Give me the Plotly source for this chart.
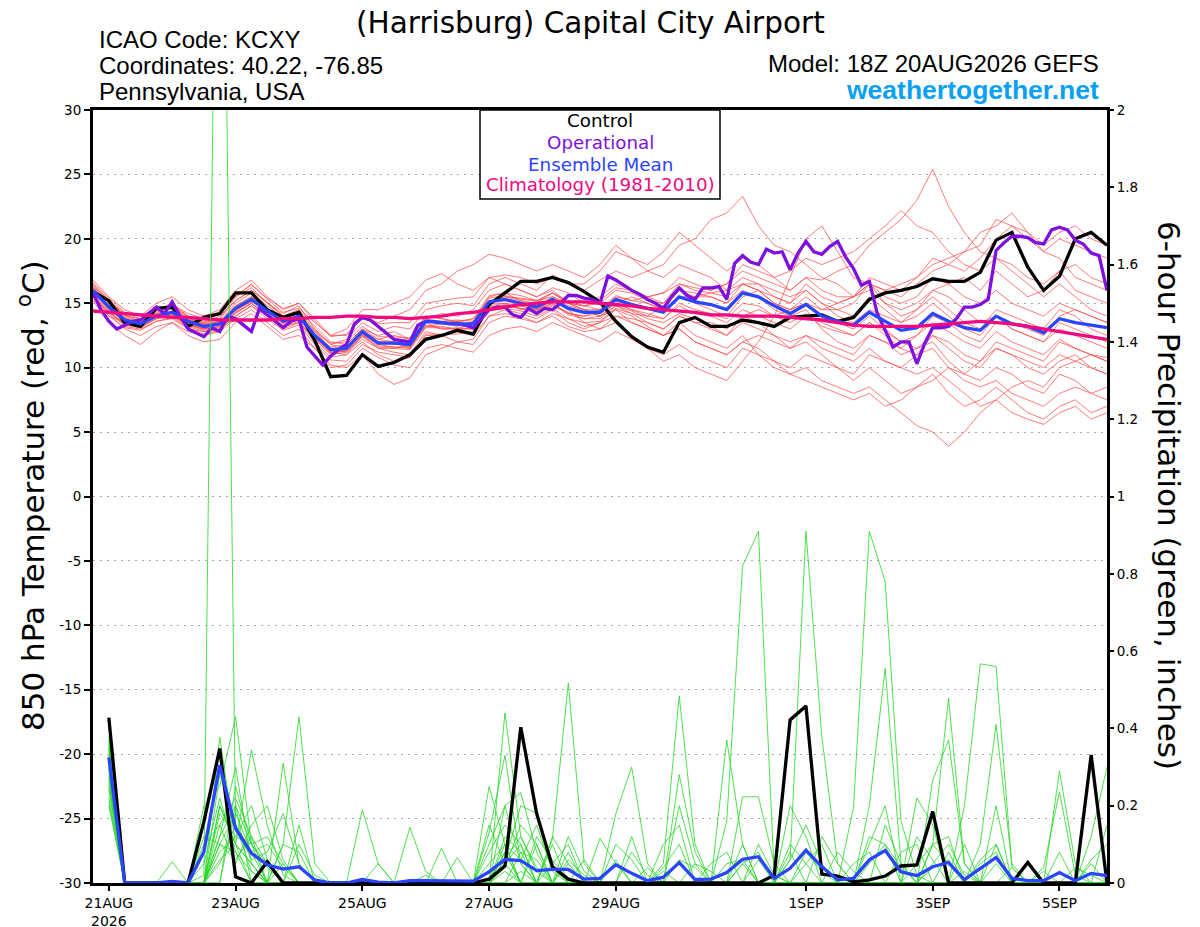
import pandas as pd
import plotly.graph_objects as go

# ---------------- data ----------------
START = "2026-08-20 18:00"

control_temp = [15.9, 15.2, 13.5, 13.2, 14.6, 14.7, 13.2, 13.9, 14.2, 15.8, 15.8, 14.5, 13.9,
                14.3, 12.1, 9.3, 9.4, 11.0, 10.1, 10.4, 11.0, 12.2, 12.5, 12.9, 12.6, 14.9,
                15.8, 16.7, 16.7, 17.0, 16.6, 15.9, 15.1, 13.6, 12.4, 11.6, 11.2, 13.5, 13.9,
                13.2, 13.2, 13.7, 13.5, 13.2, 13.9, 14.0, 14.1, 13.6, 13.9, 15.3, 15.8, 16.0,
                16.3, 16.9, 16.7, 16.7, 17.4, 19.9, 20.5, 17.8, 16.0, 17.1, 20.0, 20.5, 19.5]

oper_temp = [15.8, 14.5, 13.6, 13.0, 13.3, 13.6, 13.7, 14.2, 14.7, 14.2, 15.1, 14.0, 13.0, 12.7, 12.4, 13.1,
             12.8, 14.0, 13.8, 13.3, 12.8, 14.6, 14.1, 13.6, 13.1, 13.6, 13.8, 11.6, 10.9, 10.2, 10.9, 11.4,
             11.8, 13.4, 13.9, 13.7, 13.2, 12.7, 12.2, 12.1, 12.0, 13.3, 13.6, 13.6, 13.5, 13.4, 13.4, 13.3,
             13.1, 13.8, 14.5, 14.7, 14.7, 14.1, 13.9, 14.6, 14.2, 14.6, 14.5, 15.0, 15.6, 15.6, 15.4, 15.3,
             15.0, 17.1, 16.8, 16.4, 16.0, 15.7, 15.3, 15.0, 14.6, 15.5, 16.2, 15.6, 15.3, 16.2, 16.2, 16.3,
             15.3, 18.1, 18.7, 18.2, 18.0, 19.2, 18.9, 19.0, 17.6, 18.9, 19.8, 19.0, 18.8, 19.4, 19.8, 18.6,
             17.7, 16.4, 16.7, 14.2, 12.9, 11.6, 12.0, 12.0, 10.3, 11.9, 13.1, 13.1, 13.2, 13.8, 14.7, 14.7,
             14.9, 15.3, 19.1, 19.7, 20.2, 20.2, 20.1, 19.7, 19.6, 20.7, 20.9, 20.7, 19.9, 19.6, 18.9, 18.7,
             16.0]

mean_temp = [16.0, 14.7, 13.7, 13.4, 14.0, 14.3, 13.6, 13.2, 13.4, 14.6, 15.3, 14.4, 13.6,
             14.0, 12.5, 11.4, 11.5, 12.8, 11.9, 11.9, 11.8, 13.6, 13.5, 13.4, 13.4, 15.1,
             15.3, 15.0, 14.7, 15.3, 14.6, 14.3, 14.3, 15.3, 14.9, 14.6, 14.3, 15.5, 15.1,
             14.9, 14.5, 15.8, 15.5, 14.8, 14.2, 14.9, 14.0, 13.6, 13.3, 14.3, 13.6, 12.9,
             13.1, 14.2, 13.6, 13.1, 12.9, 14.0, 13.4, 13.2, 12.7, 13.8, 13.5, 13.3, 13.1]

clim_temp = [14.4, 14.3, 14.2, 14.1, 14.0, 13.9, 13.9, 13.8, 13.7, 13.7, 13.7, 13.7, 13.8,
             13.8, 13.9, 13.9, 14.0, 14.0, 13.9, 13.9, 13.8, 13.9, 14.0, 14.2, 14.3, 14.5,
             14.7, 14.9, 15.0, 15.1, 15.1, 15.1, 15.0, 14.9, 14.8, 14.6, 14.5, 14.4, 14.3,
             14.1, 14.1, 14.0, 14.0, 14.0, 13.9, 13.8, 13.7, 13.5, 13.3, 13.2, 13.2, 13.2,
             13.2, 13.3, 13.4, 13.5, 13.6, 13.5, 13.4, 13.2, 13.0, 12.8, 12.6, 12.4, 12.2]

control_precip = [0.428, 0, 0, 0, 0, 0, 0.159, 0.348, 0.016, 0, 0.055, 0, 0, 0, 0, 0,
                  0, 0, 0, 0, 0, 0, 0, 0, 0.01, 0.044, 0.403, 0.18, 0.042, 0.01, 0, 0,
                  0, 0, 0, 0, 0, 0, 0, 0, 0, 0, 0.02, 0.422, 0.458, 0.023, 0.018, 0.003,
                  0.008, 0.018, 0.044, 0.047, 0.185, 0, 0, 0, 0, 0, 0.053, 0, 0, 0, 0.331, 0]

mean_precip = [0.325, 0, 0, 0, 0.004, 0, 0.081, 0.305, 0.141, 0.077, 0.047, 0.036, 0.042, 0.008, 0, 0,
               0.009, 0.002, 0, 0.006, 0.006, 0.006, 0.005, 0.005, 0.029, 0.061, 0.058, 0.032, 0.035, 0.035, 0.010, 0.012,
               0.047, 0.025, 0.006, 0.015, 0.053, 0.009, 0.010, 0.027, 0.061, 0.068, 0.012, 0.038, 0.085, 0.042, 0.008, 0.012,
               0.060, 0.084, 0.029, 0.019, 0.042, 0.053, 0.009, 0.038, 0.066, 0.012, 0.006, 0.006, 0.027, 0.006, 0.025, 0.019]

# ensemble members: 850 hPa temperature (6-hourly, from 20AUG 18Z)
t_m01 = [16.2, 15.0, 14.1, 13.6, 14.5, 15.0, 14.0, 13.5, 14.0, 15.2, 16.0, 15.1, 14.0,
         14.5, 13.2, 12.0, 11.8, 13.0, 12.5, 12.8, 12.2, 13.8, 14.2, 14.0, 14.5, 16.0,
         16.5, 16.0, 15.5, 16.2, 15.8, 15.0, 15.5, 16.5, 16.0, 15.5, 15.8, 17.0, 16.5,
         16.0, 16.5, 17.5, 17.0, 16.5, 16.0, 17.0, 16.8, 17.5, 18.0, 19.5, 20.5, 21.5,
         23.0, 25.4, 22.5, 20.5, 19.0, 18.5, 18.0, 17.0, 16.5, 17.5, 16.0, 15.5, 15.0]
t_m02 = [15.8, 14.5, 13.2, 13.0, 13.6, 13.8, 13.0, 12.8, 13.0, 14.2, 15.0, 14.0, 13.0,
         13.5, 12.0, 10.8, 11.0, 12.0, 11.0, 10.5, 10.8, 12.5, 12.5, 12.8, 12.5, 14.0,
         14.5, 14.2, 13.8, 14.5, 13.5, 13.0, 13.5, 14.0, 13.5, 13.0, 12.5, 13.0, 12.0,
         11.5, 11.0, 12.0, 11.5, 10.5, 9.5, 10.0, 9.0, 8.5, 8.0, 8.5, 7.5, 6.5,
         5.5, 5.0, 3.9, 5.0, 6.5, 7.5, 8.5, 9.0, 8.5, 10.0, 10.5, 11.0, 10.5]
t_m03 = [16.5, 15.2, 14.2, 13.8, 14.8, 14.5, 13.8, 13.5, 13.8, 15.5, 16.2, 15.0, 14.2,
         14.8, 13.0, 11.8, 12.2, 13.5, 12.8, 13.2, 13.0, 14.5, 14.8, 15.0, 14.8, 16.5,
         17.0, 16.5, 16.0, 17.2, 16.5, 16.0, 16.8, 17.5, 17.0, 17.5, 18.0, 19.5, 20.0,
         21.5, 22.0, 23.3, 21.0, 19.5, 19.0, 18.0, 17.0, 16.5, 15.5, 16.0, 15.0, 14.5,
         15.0, 16.0, 15.5, 14.5, 13.5, 14.0, 13.0, 12.5, 12.0, 13.0, 12.5, 12.0, 11.5]
t_m04 = [15.5, 14.2, 13.0, 12.5, 13.2, 13.5, 12.8, 12.5, 12.8, 13.8, 14.5, 13.5, 12.5,
         13.0, 11.5, 10.2, 10.0, 11.0, 9.5, 8.7, 9.2, 11.0, 11.5, 12.0, 11.8, 13.5,
         14.0, 13.8, 13.5, 14.0, 13.2, 12.8, 13.0, 14.0, 13.8, 13.5, 13.0, 14.0, 13.5,
         13.0, 12.5, 14.0, 13.5, 12.5, 11.5, 12.0, 11.0, 10.0, 9.0, 10.0, 9.0, 8.0,
         8.5, 9.5, 8.0, 7.0, 7.5, 8.5, 7.5, 6.5, 6.0, 7.0, 7.5, 6.5, 7.0]
t_m05 = [16.8, 15.5, 14.5, 14.0, 15.0, 15.5, 14.5, 14.0, 14.5, 16.0, 16.8, 15.5, 14.5,
         15.0, 13.8, 12.5, 12.5, 14.0, 13.5, 14.0, 14.5, 16.0, 16.5, 17.5, 18.0, 18.8,
         18.5, 18.0, 17.5, 18.0, 17.5, 17.0, 18.0, 19.5, 18.5, 17.5, 17.0, 18.0, 17.5,
         17.0, 16.0, 17.0, 16.5, 15.5, 15.0, 16.0, 15.0, 14.5, 14.0, 15.5, 14.5, 13.5,
         14.0, 15.0, 14.0, 13.0, 12.5, 14.0, 13.0, 12.5, 12.0, 13.5, 13.0, 12.5, 12.0]
t_m06 = [15.9, 14.8, 13.9, 13.3, 14.0, 14.2, 13.5, 13.0, 13.5, 14.8, 15.5, 14.5, 13.5,
         14.0, 12.8, 11.5, 11.2, 12.5, 12.0, 12.0, 11.5, 13.5, 13.0, 13.0, 13.5, 15.0,
         15.0, 14.5, 14.8, 15.5, 15.0, 14.5, 14.0, 15.0, 15.5, 15.0, 14.5, 16.0, 15.5,
         15.5, 15.0, 16.5, 16.0, 15.5, 15.0, 16.5, 15.5, 15.0, 15.5, 17.0, 16.5, 16.0,
         17.0, 18.5, 18.0, 17.5, 18.5, 20.0, 21.0, 20.5, 19.5, 20.5, 21.0, 20.0, 19.5]
t_m07 = [15.6, 14.0, 13.5, 13.2, 13.8, 14.0, 13.2, 12.8, 13.0, 14.0, 14.8, 14.0, 13.2,
         13.5, 12.2, 11.0, 11.2, 12.2, 11.5, 11.2, 11.0, 12.8, 12.5, 12.0, 12.2, 14.0,
         14.2, 14.0, 13.5, 14.2, 13.8, 13.2, 13.5, 14.5, 14.0, 13.2, 12.5, 13.5, 12.5,
         12.0, 11.5, 12.5, 11.0, 10.0, 9.5, 9.0, 8.5, 8.0, 7.5, 8.0, 7.0, 7.5,
         8.5, 9.0, 10.0, 9.5, 10.5, 11.5, 11.0, 10.0, 9.5, 10.5, 11.0, 10.0, 9.5]
t_m08 = [16.0, 14.6, 13.6, 13.5, 14.2, 14.6, 13.6, 13.3, 13.5, 14.8, 15.5, 14.6, 13.8,
         14.2, 12.6, 11.6, 11.8, 13.0, 12.2, 12.0, 12.0, 13.8, 13.5, 13.2, 13.6, 15.5,
         15.8, 15.2, 14.5, 15.0, 14.2, 14.0, 14.5, 15.0, 14.5, 14.0, 14.8, 16.0, 15.0,
         14.5, 14.0, 15.5, 16.0, 15.0, 14.5, 15.5, 14.5, 14.5, 15.0, 16.5, 16.0, 15.5,
         16.5, 17.5, 18.0, 19.0, 20.5, 21.0, 22.0, 20.5, 19.0, 18.5, 17.0, 16.5, 16.0]
t_m09 = [16.3, 15.3, 14.0, 13.8, 14.6, 14.8, 14.0, 13.6, 14.2, 15.5, 16.5, 15.3, 14.3,
         14.6, 13.5, 12.5, 13.0, 14.5, 14.5, 15.0, 15.5, 16.8, 17.3, 16.5, 16.0, 17.0,
         16.5, 16.0, 15.5, 16.0, 15.0, 14.5, 14.0, 14.5, 13.5, 13.0, 12.5, 13.0, 12.0,
         11.5, 11.0, 12.0, 12.5, 12.0, 11.5, 12.5, 12.0, 11.5, 11.0, 12.5, 12.0, 11.0,
         11.5, 12.5, 12.0, 11.0, 10.5, 12.0, 11.5, 11.0, 10.5, 12.0, 11.5, 11.0, 10.8]
t_m10 = [15.2, 13.5, 12.5, 11.8, 12.8, 13.5, 12.5, 12.0, 12.2, 13.5, 14.2, 13.2, 12.2,
         12.5, 11.5, 10.0, 10.2, 11.5, 10.8, 10.2, 10.0, 11.5, 11.8, 11.5, 11.2, 12.5,
         13.0, 13.2, 12.8, 13.5, 13.0, 12.5, 12.0, 12.8, 12.2, 11.5, 11.0, 11.8, 11.0,
         10.5, 10.0, 11.5, 11.0, 10.5, 10.0, 11.0, 10.5, 10.0, 9.5, 11.0, 10.5, 10.0,
         11.0, 12.5, 11.5, 10.5, 10.0, 11.5, 11.0, 10.5, 10.0, 11.0, 10.5, 10.0, 9.5]
t_m11 = [16.1, 14.9, 13.8, 13.4, 14.3, 14.7, 13.8, 13.3, 13.6, 15.0, 15.8, 14.8, 13.9,
         14.2, 12.8, 11.8, 11.5, 12.8, 12.2, 12.5, 12.2, 14.0, 13.8, 13.5, 13.8, 15.2,
         15.5, 15.2, 15.0, 15.8, 15.2, 14.8, 15.0, 16.0, 15.8, 15.2, 15.0, 16.5, 16.2,
         16.0, 16.5, 18.0, 17.5, 17.0, 17.5, 18.5, 18.0, 18.5, 19.0, 20.0, 21.0, 22.2,
         21.0, 20.5, 19.0, 18.0, 17.5, 18.5, 17.5, 16.5, 15.5, 16.5, 15.5, 14.5, 14.0]
t_m12 = [15.7, 14.4, 13.4, 13.1, 13.9, 14.1, 13.3, 12.9, 13.2, 14.4, 15.2, 14.2, 13.3,
         13.8, 12.3, 11.2, 11.4, 12.6, 11.8, 11.6, 11.5, 13.2, 13.2, 13.0, 13.0, 14.8,
         15.0, 14.8, 14.5, 15.0, 14.2, 14.0, 14.2, 15.0, 14.5, 14.2, 13.8, 15.0, 14.5,
         14.2, 13.8, 15.0, 14.8, 14.0, 13.5, 14.2, 13.2, 12.8, 12.5, 13.5, 12.8, 12.0,
         12.5, 13.5, 12.8, 12.0, 11.5, 12.8, 12.0, 11.5, 11.0, 12.2, 11.5, 11.0, 10.5]
t_m13 = [16.0, 14.7, 13.7, 13.2, 14.0, 14.4, 13.6, 13.1, 13.4, 14.6, 15.4, 14.4, 13.5,
         14.0, 12.6, 11.4, 11.6, 12.9, 12.0, 11.8, 11.8, 13.6, 13.4, 13.6, 13.2, 15.2,
         15.2, 14.8, 14.5, 15.2, 14.5, 13.5, 13.0, 13.5, 12.5, 11.5, 10.5, 11.0, 10.0,
         9.5, 9.0, 10.5, 12.0, 14.0, 17.0, 20.0, 21.0, 19.0, 17.0, 16.5, 15.0, 14.0,
         14.5, 15.5, 14.5, 13.5, 13.0, 14.5, 14.0, 13.5, 13.0, 14.5, 14.0, 13.0, 12.5]
t_m14 = [16.4, 15.1, 13.9, 13.5, 14.2, 14.3, 13.7, 13.4, 13.6, 14.5, 15.1, 14.6, 13.9,
         14.3, 12.5, 11.2, 11.0, 12.5, 11.5, 11.5, 11.8, 13.2, 13.4, 13.6, 13.2, 15.0,
         15.5, 15.4, 15.2, 15.8, 15.0, 14.8, 14.5, 15.5, 15.2, 15.5, 15.8, 16.5, 16.0,
         15.8, 15.5, 16.5, 16.0, 15.0, 14.5, 15.0, 14.0, 13.5, 13.0, 14.0, 13.0, 12.0,
         11.5, 12.0, 10.5, 9.5, 9.0, 10.0, 9.5, 8.5, 8.0, 9.5, 9.0, 8.0, 7.5]
t_m15 = [15.4, 14.3, 13.4, 13.6, 14.1, 14.0, 13.4, 13.0, 13.1, 14.3, 15.0, 14.1, 13.4,
         13.9, 12.4, 11.3, 11.5, 12.6, 12.0, 11.9, 11.6, 13.5, 13.6, 13.7, 13.6, 15.4,
         15.6, 15.3, 15.2, 15.5, 14.8, 14.5, 14.5, 15.6, 15.2, 15.0, 14.5, 15.5, 15.5,
         15.8, 16.0, 16.5, 16.5, 16.0, 15.5, 16.0, 15.0, 14.0, 13.5, 14.5, 14.0, 13.5,
         14.5, 16.0, 16.5, 17.0, 16.0, 17.5, 16.5, 15.5, 16.0, 17.5, 18.0, 17.0, 16.5]
t_m16 = [15.8, 14.6, 13.5, 13.3, 14.0, 14.2, 13.4, 13.1, 13.3, 14.5, 15.3, 14.3, 13.5,
         13.8, 12.4, 11.2, 11.3, 12.5, 11.7, 11.6, 11.6, 13.3, 13.0, 13.1, 13.0, 14.6,
         14.8, 14.6, 14.2, 14.8, 14.3, 13.8, 14.0, 14.8, 14.4, 13.8, 13.5, 14.2, 13.8,
         13.2, 12.5, 13.5, 13.0, 12.5, 12.0, 12.5, 11.5, 11.0, 10.5, 11.5, 10.5, 10.0,
         9.5, 10.0, 9.0, 8.0, 7.0, 7.5, 6.5, 6.0, 5.6, 6.5, 7.0, 6.0, 6.5]
t_m17 = [16.6, 15.4, 14.3, 14.0, 14.6, 14.9, 14.2, 13.8, 14.1, 15.6, 16.4, 15.4, 14.6,
         15.0, 13.6, 12.4, 12.6, 13.8, 13.4, 13.5, 13.5, 15.0, 15.2, 15.4, 15.5, 17.0,
         17.2, 17.0, 16.5, 17.0, 16.5, 16.5, 17.5, 19.0, 18.5, 18.0, 19.0, 20.5, 19.5,
         18.5, 17.5, 18.5, 18.0, 17.0, 16.0, 17.0, 16.0, 15.5, 15.5, 16.5, 15.5, 15.0,
         15.5, 17.0, 16.5, 15.5, 15.0, 16.0, 15.0, 14.5, 14.0, 15.0, 14.5, 14.0, 13.5]
t_m18 = [15.3, 14.0, 13.1, 12.9, 13.6, 13.9, 13.1, 12.6, 12.9, 14.0, 14.8, 13.8, 12.9,
         13.3, 11.8, 10.6, 10.5, 11.8, 11.2, 11.0, 10.8, 12.6, 12.6, 12.6, 12.8, 14.4,
         14.6, 14.4, 14.0, 14.6, 13.8, 13.5, 13.6, 14.6, 14.2, 14.0, 13.8, 14.8, 14.2,
         14.0, 13.5, 14.5, 14.0, 13.5, 13.0, 14.0, 13.5, 13.0, 12.5, 13.5, 12.5, 11.5,
         11.0, 11.5, 10.0, 9.0, 8.5, 9.0, 8.0, 7.5, 7.0, 8.0, 8.5, 8.0, 8.5]
t_m19 = [16.2, 15.1, 14.1, 13.4, 14.4, 14.8, 13.9, 13.4, 13.8, 15.2, 16.0, 15.0, 14.0,
         14.4, 12.9, 11.9, 12.0, 13.2, 12.4, 12.4, 12.3, 14.0, 13.8, 13.6, 13.8, 15.6,
         15.8, 15.6, 15.2, 15.8, 15.0, 14.8, 15.2, 16.2, 16.0, 15.5, 15.0, 16.0, 15.8,
         15.5, 15.0, 16.0, 15.5, 14.5, 14.0, 14.5, 13.0, 12.0, 11.5, 12.5, 12.0, 11.5,
         12.5, 14.0, 13.5, 12.5, 12.0, 13.5, 13.5, 13.0, 12.5, 14.0, 14.5, 14.0, 13.5]
t_m20 = [15.6, 14.3, 13.3, 13.1, 13.8, 14.1, 13.3, 13.0, 13.2, 14.3, 15.0, 14.1, 13.2,
         13.6, 12.2, 11.1, 11.3, 12.4, 11.6, 11.5, 11.4, 13.1, 13.1, 13.0, 13.1, 14.7,
         14.9, 14.6, 14.4, 14.9, 14.1, 13.8, 13.8, 14.8, 14.2, 13.5, 13.0, 14.0, 13.5,
         13.5, 13.0, 14.0, 14.5, 14.0, 14.5, 15.0, 14.5, 15.0, 15.5, 16.5, 16.0, 16.5,
         17.0, 18.0, 18.5, 19.0, 19.5, 21.5, 21.0, 20.0, 19.0, 20.0, 19.5, 19.0, 18.5]

# ensemble members: 6-hour precipitation (inches, from 21AUG 00Z)
p_m01 = [.38, 0, 0, 0, 0, 0, .02, 3.5, .15, .03, 0, 0, 0, 0, 0, 0,
         0, 0, 0, 0, 0, 0, 0, 0, 0, .44, .12, .03, 0, 0, 0, 0,
         0, 0, 0, 0, 0, 0, 0, 0, .05, 0, 0, .06, .91, .38, .05, 0,
         0, 0, 0, 0, 0, 0, 0, .1, .41, .05, 0, 0, 0, 0, 0, 0]
p_m02 = [.36, 0, 0, 0, 0, 0, 0, .377, .1, .05, 0, 0, 0, 0, 0, 0,
         0, 0, 0, 0, 0, 0, 0, 0, .25, .1, 0, 0, 0, .05, 0, 0,
         0, 0, 0, 0, 0, 0, 0, .16, .82, .91, .02, 0, 0, 0, 0, 0,
         0, 0, 0, 0, .1, .478, .05, 0, 0, 0, 0, 0, 0, 0, .12, .3]
p_m03 = [.35, 0, 0, 0, 0, 0, .2, .25, .43, .1, .04, 0, 0, 0, 0, 0,
         0, 0, 0, 0, 0, 0, 0, 0, 0, 0, 0, 0, .115, .517, .05, 0,
         0, 0, 0, 0, 0, 0, 0, 0, 0, 0, 0, 0, 0, 0, 0, .196,
         .91, .78, .16, .02, 0, 0, 0, 0, 0, 0, 0, 0, .29, .05, 0, 0]
p_m04 = [.34, 0, 0, 0, 0, 0, 0, .2, .1, .344, .15, .02, 0, 0, 0, 0,
         0, 0, 0, 0, 0, 0, 0, 0, .13, .33, .05, 0, 0, 0, 0, 0,
         0, 0, 0, .05, .484, .1, 0, 0, 0, 0, 0, 0, 0, 0, 0, 0,
         0, 0, 0, 0, 0, 0, .2, .567, .56, .04, 0, 0, 0, 0, 0, 0]
p_m05 = [.33, 0, 0, 0, 0, 0, 0, 0, .2, 0, 0, .31, .05, 0, 0, 0,
         0, 0, 0, 0, 0, 0, 0, 0, 0, .2, .234, .08, 0, 0, 0, 0,
         .18, .3, .05, 0, 0, 0, 0, 0, 0, 0, 0, 0, 0, 0, 0, 0,
         .2, .555, .05, 0, 0, 0, 0, 0, 0, 0, 0, .04, .236, .02, 0, 0]
p_m06 = [.32, 0, 0, 0, .055, 0, 0, 0, .25, .1, 0, .1, .43, .05, 0, 0,
         0, 0, 0, 0, 0, 0, 0, 0, 0, .06, .2, .18, .04, 0, 0, 0,
         0, 0, 0, 0, 0, 0, 0, .37, .1, 0, 0, 0, 0, 0, 0, 0,
         0, 0, 0, 0, .266, .37, .05, 0, 0, 0, 0, 0, 0, 0, 0, 0]
p_m07 = [.31, 0, 0, 0, 0, 0, 0, .2, .1, 0, 0, 0, 0, 0, 0, 0,
         .19, .05, 0, 0, 0, 0, 0, 0, .08, .15, .1, 0, 0, 0, 0, 0,
         0, 0, 0, 0, .28, .08, 0, 0, 0, 0, 0, .2, .12, 0, 0, 0,
         0, 0, 0, .22, .15, 0, 0, 0, .1, 0, 0, 0, 0, 0, 0, 0]
p_m08 = [.3, 0, 0, 0, 0, 0, 0, .28, .15, .08, 0, 0, 0, 0, 0, 0,
         0, 0, 0, .144, .03, 0, 0, 0, 0, .12, .08, 0, .1, 0, 0, .115,
         .05, 0, 0, 0, 0, 0, 0, 0, .223, .223, .05, 0, 0, 0, 0, 0,
         .1, .2, 0, 0, 0, 0, 0, 0, 0, 0, .05, 0, 0, 0, 0, .15]
p_m09 = [.29, 0, 0, 0, 0, 0, .1, .15, .22, .12, .05, 0, 0, 0, 0, 0,
         0, 0, 0, 0, 0, .09, 0, 0, 0, .08, 0, .1, 0, 0, 0, 0,
         0, 0, 0, 0, .2, .05, 0, 0, 0, 0, 0, 0, 0, .12, .05, 0,
         0, 0, 0, 0, .1, .12, 0, 0, .2, 0, 0, 0, 0, 0, 0, 0]
p_m10 = [.28, 0, 0, 0, 0, 0, 0, .18, .12, .2, .06, 0, 0, 0, 0, 0,
         0, 0, 0, 0, 0, 0, .066, 0, 0, .05, .1, 0, 0, .08, 0, 0,
         0, .12, 0, .03, 0, 0, 0, 0, 0, 0, 0, 0, .05, .1, 0, 0,
         0, .15, .05, 0, 0, 0, .1, 0, 0, 0, 0, 0, 0, 0, 0, 0]
p_m11 = [.27, 0, 0, 0, 0, 0, .12, .1, .08, 0, 0, .05, 0, 0, 0, 0,
         0, .05, 0, 0, 0, 0, 0, 0, .05, .1, 0, 0, .12, .05, 0, 0,
         0, 0, 0, .1, .15, 0, 0, 0, .1, 0, 0, .08, 0, 0, 0, 0,
         0, 0, 0, .12, .06, 0, 0, 0, 0, 0, 0, 0, 0, 0, .05, 0]
p_m12 = [.26, 0, 0, 0, 0, 0, 0, .15, .05, .15, .2, .06, 0, 0, 0, 0,
         0, 0, 0, 0, 0, 0, 0, 0, 0, .04, .15, .1, 0, 0, .06, 0,
         0, 0, 0, 0, 0, 0, .05, .08, 0, .06, 0, 0, 0, 0, 0, .05,
         .08, 0, 0, 0, 0, 0, 0, .06, .1, 0, 0, 0, 0, 0, 0, 0]
p_m13 = [.25, 0, 0, 0, 0, 0, 0, .12, .3, .05, 0, 0, .1, .02, 0, 0,
         0, 0, 0, 0, 0, 0, 0, 0, 0, .08, 0, .12, .06, 0, 0, 0,
         .1, .06, 0, 0, 0, 0, 0, 0, 0, 0, 0, .06, .15, .05, 0, 0,
         0, 0, 0, 0, 0, .08, 0, 0, 0, 0, 0, .03, 0, 0, 0, 0]
p_m14 = [.24, 0, 0, 0, 0, 0, 0, .1, .18, .08, .1, .04, 0, 0, 0, 0,
         0, 0, 0, 0, 0, 0, 0, 0, .1, .2, .05, 0, 0, 0, 0, 0,
         0, 0, 0, 0, .06, .04, 0, 0, 0, 0, 0, 0, 0, 0, 0, 0,
         .12, .1, .04, 0, 0, 0, 0, 0, 0, .04, 0, 0, 0, 0, 0, 0]
p_m15 = [.22, 0, 0, 0, 0, 0, .05, .22, .08, .03, 0, 0, 0, 0, 0, 0,
         0, 0, 0, 0, .02, 0, 0, 0, 0, .06, .12, .04, 0, 0, 0, 0,
         0, .08, .02, 0, 0, 0, 0, 0, 0, 0, 0, .1, .05, 0, 0, 0,
         0, 0, 0, .05, .1, .05, 0, 0, 0, 0, 0, 0, 0, 0, 0, 0]
p_m16 = [.2, 0, 0, 0, 0, 0, 0, .08, .12, .1, .12, .05, 0, 0, 0, 0,
         0, 0, 0, 0, 0, 0, 0, 0, 0, 0, .08, .06, 0, .12, .03, 0,
         0, 0, 0, 0, 0, 0, 0, .05, .06, 0, 0, 0, 0, 0, 0, 0,
         0, 0, .08, .1, 0, 0, .03, 0, 0, 0, 0, 0, 0, 0, 0, 0]
p_m17 = [.35, 0, 0, 0, 0, 0, 0, .1, .06, .12, 0, 0, .15, 0, 0, 0,
         0, 0, 0, 0, 0, 0, 0, 0, 0, .03, 0, 0, .05, .1, 0, 0,
         .06, 0, 0, 0, 0, 0, 0, 0, 0, .1, .02, 0, 0, 0, .08, .03,
         0, 0, 0, 0, 0, 0, 0, 0, .05, 0, 0, 0, .08, 0, 0, 0]
p_m18 = [.37, 0, 0, 0, 0, 0, 0, .05, .15, .06, .08, .18, .05, 0, 0, 0,
         0, 0, 0, 0, 0, 0, 0, 0, .15, .05, 0, 0, 0, 0, 0, 0,
         0, 0, 0, .04, .1, 0, 0, 0, 0, 0, 0, 0, .08, .03, 0, 0,
         0, 0, 0, 0, .05, .1, .02, 0, 0, 0, 0, 0, 0, 0, 0, 0]
p_m19 = [.3, 0, 0, 0, 0, 0, 0, .12, .2, .1, .05, 0, 0, 0, 0, 0,
         0, 0, 0, 0, 0, 0, 0, 0, 0, .1, .06, .15, .03, 0, 0, 0,
         0, 0, 0, 0, 0, .05, .03, 0, 0, 0, 0, 0, 0, 0, 0, 0,
         .05, .1, 0, 0, 0, 0, 0, .05, .08, 0, 0, 0, 0, 0, .06, .1]
p_m20 = [.21, 0, 0, 0, 0, 0, 0, .06, .1, .05, 0, .1, .08, 0, 0, 0,
         0, 0, 0, 0, 0, 0, 0, 0, 0, 0, .03, 0, 0, .06, .02, 0,
         0, 0, .04, 0, 0, 0, 0, 0, .05, .08, 0, 0, 0, 0, 0, 0,
         0, 0, 0, 0, .04, .06, 0, 0, 0, 0, 0, 0, 0, .04, .02, 0]

temp_members = [t_m01, t_m02, t_m03, t_m04, t_m05, t_m06, t_m07, t_m08, t_m09, t_m10,
                t_m11, t_m12, t_m13, t_m14, t_m15, t_m16, t_m17, t_m18, t_m19, t_m20]
precip_members = [p_m01, p_m02, p_m03, p_m04, p_m05, p_m06, p_m07, p_m08, p_m09, p_m10,
                  p_m11, p_m12, p_m13, p_m14, p_m15, p_m16, p_m17, p_m18, p_m19, p_m20]

xtick_dates = ["2026-08-21", "2026-08-23", "2026-08-25", "2026-08-27",
               "2026-08-29", "2026-09-01", "2026-09-03", "2026-09-05"]
xtick_labels = ["21AUG<br>2026", "23AUG", "25AUG", "27AUG", "29AUG", "1SEP", "3SEP", "5SEP"]
ytick_vals = [30, 25, 20, 15, 10, 5, 0, -5, -10, -15, -20, -25, -30]
ytick_labels = ["30", "25", "20", "15", "10", "5", "0", "-5", "-10", "-15", "-20", "-25", "-30"]
y2tick_vals = [2, 1.8, 1.6, 1.4, 1.2, 1, 0.8, 0.6, 0.4, 0.2, 0]
y2tick_labels = ["2", "1.8", "1.6", "1.4", "1.2", "1", "0.8", "0.6", "0.4", "0.2", "0"]

legend_items = ["Control", "Operational", "Ensemble Mean", "Climatology (1981-2010)"]

# ---------------- styles ----------------
FONT = "DejaVu Sans"
FONT_H = "Liberation Sans"
C_CONTROL = "#000000"
C_OPER = "#7f0fdf"
C_MEAN = "#2a45ff"
C_CLIM = "#f0097f"
C_RED = "rgba(255,70,70,0.8)"
C_GREEN = "rgba(40,215,40,0.9)"
legend_colors = [C_CONTROL, C_OPER, C_MEAN, C_CLIM]

# page is drawn with an 8px body offset; the plot area should land at
# x 93..1107 and y 110..883 of the 1200x927 window
OFF = 8
W, H = 1200, 927
PX0, PX1, PY0, PY1 = 93, 1107, 110, 883
PW, PH = PX1 - PX0, PY1 - PY0
L, T = PX0 - OFF, PY0 - OFF
R, B = W - L - PW, H - T - PH


def px_x(x):
    return (x - PX0) / PW


def px_y(y):
    return (PY1 - y) / PH


t6 = pd.date_range(START, periods=len(control_temp), freq="6h")
t3 = pd.date_range(START, periods=len(oper_temp), freq="3h")
tp = t6[1:]

fig = go.Figure()

for m in temp_members:
    fig.add_trace(go.Scatter(x=t6, y=m, mode="lines", line=dict(color=C_RED, width=0.9),
                             hoverinfo="skip", showlegend=False))

fig.add_trace(go.Scatter(x=t6, y=control_temp, mode="lines", line=dict(color=C_CONTROL, width=3.3),
                         showlegend=False))
fig.add_trace(go.Scatter(x=t3, y=oper_temp, mode="lines", line=dict(color=C_OPER, width=3.3),
                         showlegend=False))
fig.add_trace(go.Scatter(x=t6, y=mean_temp, mode="lines", line=dict(color=C_MEAN, width=3.3),
                         showlegend=False))
fig.add_trace(go.Scatter(x=t6, y=clim_temp, mode="lines", line=dict(color=C_CLIM, width=3.3),
                         showlegend=False))

for m in precip_members:
    fig.add_trace(go.Scatter(x=tp, y=m, yaxis="y2", mode="lines", line=dict(color=C_GREEN, width=0.9),
                             hoverinfo="skip", showlegend=False))
fig.add_trace(go.Scatter(x=tp, y=control_precip, yaxis="y2", mode="lines",
                         line=dict(color=C_CONTROL, width=3.3), showlegend=False))
fig.add_trace(go.Scatter(x=tp, y=mean_precip, yaxis="y2", mode="lines",
                         line=dict(color=C_MEAN, width=3.3), showlegend=False))

fig.update_layout(
    width=W, height=H,
    margin=dict(l=L, r=R, t=T, b=B, pad=0, autoexpand=False),
    paper_bgcolor="white", plot_bgcolor="white",
    font=dict(family=FONT, color="black"),
    showlegend=False,
    xaxis=dict(
        type="date", automargin=False,
        range=[t6[0], t6[-1]],
        tickvals=pd.to_datetime(xtick_dates), ticktext=xtick_labels,
        ticks="outside", ticklen=5, tickwidth=1.5, tickcolor="black",
        tickfont=dict(family=FONT, size=14, color="black"),
        showgrid=False, zeroline=False,
        showline=True, linecolor="black", linewidth=3, mirror=True,
    ),
    yaxis=dict(
        range=[-30, 30], automargin=False,
        tickvals=ytick_vals, ticktext=ytick_labels,
        ticks="outside", ticklen=6, tickwidth=1.5, tickcolor="black",
        tickfont=dict(family=FONT, size=13.5, color="black"),
        showgrid=True, gridcolor="#a8a8a8", griddash="2px,5px", gridwidth=1,
        zeroline=False,
        showline=True, linecolor="black", linewidth=3, mirror=True,
    ),
    yaxis2=dict(
        range=[0, 2], overlaying="y", side="right", automargin=False,
        tickvals=y2tick_vals, ticktext=y2tick_labels,
        ticks="outside", ticklen=6, tickwidth=1.5, tickcolor="black",
        tickfont=dict(family=FONT, size=13.5, color="black"),
        showgrid=False, zeroline=False, showline=False,
    ),
)

# legend box
fig.add_shape(type="rect", xref="paper", yref="paper",
              x0=px_x(480), x1=px_x(720), y0=px_y(199), y1=px_y(110),
              fillcolor="white", line=dict(color="black", width=1.5), layer="above")
legend_rows = [121, 142, 164, 185]
for txt, col, yy in zip(legend_items, legend_colors, legend_rows):
    fig.add_annotation(text=txt, xref="paper", yref="paper", x=px_x(600), y=px_y(yy),
                       xanchor="center", yanchor="middle", showarrow=False,
                       font=dict(family=FONT, size=18.3, color=col))

# header texts
fig.add_annotation(text="(Harrisburg) Capital City Airport", xref="paper", yref="paper",
                   x=px_x(590), y=px_y(23), xanchor="center", yanchor="middle", showarrow=False,
                   font=dict(family=FONT, size=29.5, color="black"))
for txt, yy in zip(["ICAO Code: KCXY", "Coordinates: 40.22, -76.85", "Pennsylvania, USA"], [40, 66, 92]):
    fig.add_annotation(text=txt, xref="paper", yref="paper", x=px_x(97), y=px_y(yy),
                       xanchor="left", yanchor="middle", showarrow=False,
                       font=dict(family=FONT_H, size=24, color="black"))
fig.add_annotation(text="Model: 18Z 20AUG2026 GEFS", xref="paper", yref="paper",
                   x=px_x(1101), y=px_y(63), xanchor="right", yanchor="middle", showarrow=False,
                   font=dict(family=FONT_H, size=24, color="black"))
fig.add_annotation(text="<b>weathertogether.net</b>", xref="paper", yref="paper",
                   x=px_x(1101), y=px_y(90), xanchor="right", yanchor="middle", showarrow=False,
                   font=dict(family=FONT_H, size=26.5, color="#09a0f5"))

# axis titles
fig.add_annotation(text="850 hPa Temperature (red, <sup>o</sup>C)", xref="paper", yref="paper",
                   x=px_x(31), y=px_y(496), xanchor="center", yanchor="middle", textangle=-90,
                   showarrow=False, font=dict(family=FONT, size=31, color="black"))
fig.add_annotation(text="6-hour Precipitation (green, inches)", xref="paper", yref="paper",
                   x=px_x(1169), y=px_y(495), xanchor="center", yanchor="middle", textangle=90,
                   showarrow=False, font=dict(family=FONT, size=31, color="black"))

fig.write_html("out.html")
